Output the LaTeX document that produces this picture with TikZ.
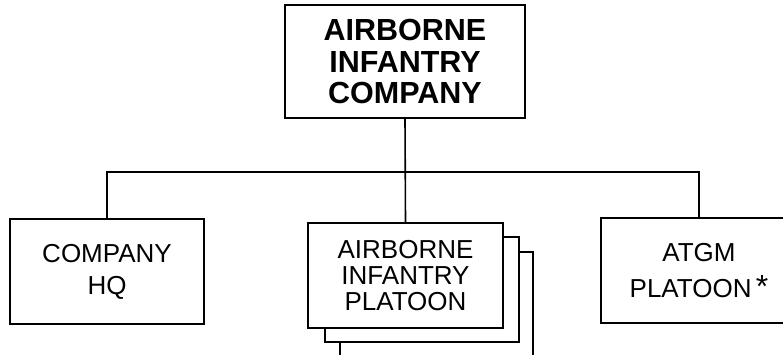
\documentclass[tikz,border=0pt]{standalone}
\usepackage{fontspec}
\setmainfont{Liberation Sans}
\begin{document}
\begin{tikzpicture}[x=1pt,y=-1pt,
  box/.style={draw,line width=1.6pt,fill=white,align=center,inner sep=0pt},
  bigtxt/.style={font=\bfseries\fontsize{30.5}{31.5}\selectfont},
  smalltxt/.style={font=\fontsize{26}{26}\selectfont},
  conn/.style={line width=1.6pt}]
\useasboundingbox (0,0) rectangle (783,354);
\clip (0,0) rectangle (783,354);
% top
\node[box,bigtxt,minimum width=240pt,minimum height=113pt] (top) at (405,61.5) {AIRBORNE\\INFANTRY\\COMPANY};
% HQ
\node[box,minimum width=194pt,minimum height=105pt,font=\fontsize{26}{32}\selectfont] (hq) at (107,271.5) {COMPANY\\HQ};
% ATGM
\node[box,minimum width=196pt,minimum height=105pt,font=\fontsize{26}{36}\selectfont] (atgm) at (699,270.5) {ATGM\\PLATOON\,{\fontsize{32}{32}\selectfont*}};
% platoon stack
\node[box,minimum width=193pt,minimum height=105pt] (plt3) at (436.5,304.5) {};
\node[box,minimum width=194pt,minimum height=105pt] (plt2) at (422,289.5) {};
\node[box,smalltxt,minimum width=195pt,minimum height=105pt] (plt) at (405.5,275.5) {AIRBORNE\\INFANTRY\\PLATOON};
% connectors
\coordinate (bus) at (405,172);
\draw[conn] (top.south) -- (plt.north);
\draw[conn] (hq.north) |- (atgm.north |- bus) -- (atgm.north);
\end{tikzpicture}
\end{document}
